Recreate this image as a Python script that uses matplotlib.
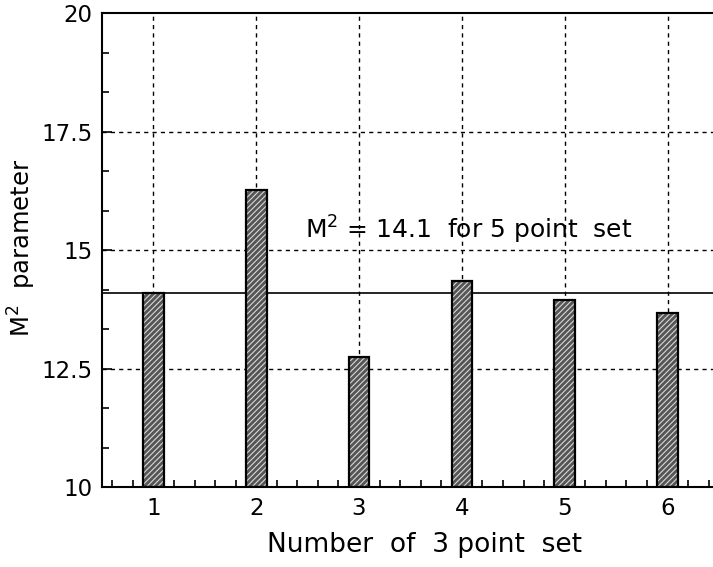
import matplotlib.pyplot as plt
from matplotlib.ticker import MultipleLocator

sets = [1, 2, 3, 4, 5, 6]
m2 = [14.1, 16.27, 12.74, 14.35, 13.95, 13.67]
m2_five = 14.1
yticks = [10, 12.5, 15, 17.5, 20]
ylabels = ['10', '12.5', '15', '17.5', '20']

plt.rcParams['font.family'] = 'DejaVu Sans'
plt.rcParams['hatch.linewidth'] = 0.8

fig = plt.figure(figsize=(7.13, 5.67), dpi=100)
ax = fig.add_axes([0.143, 0.141, 0.8654, 0.836])

# grid first, bars drawn on top
for x in sets:
    ax.axvline(x, color='black', lw=1, ls=(0, (3, 3)), zorder=1)
for y in yticks[1:-1]:
    ax.axhline(y, color='black', lw=1, ls=(0, (3, 3)), zorder=1)
ax.axhline(m2_five, color='black', lw=1.2, zorder=1)

ax.bar(sets, [v - 10 for v in m2], bottom=10, width=0.2, color='#555555',
       edgecolor='#d8d8d8', hatch='//////', lw=0, zorder=2)
ax.bar(sets, [v - 10 for v in m2], bottom=10, width=0.2, fill=False,
       edgecolor='black', lw=1.6, zorder=3)

ax.text(2.47, 15.42, r'M$^2$ = 14.1  for 5 point  set', fontsize=18,
        va='center', ha='left', zorder=4)

ax.set_xlim(0.5, 6.5)
ax.set_ylim(10, 20)
ax.set_xticks(sets)
ax.set_yticks(yticks)
ax.set_yticklabels(ylabels)
ax.xaxis.set_minor_locator(MultipleLocator(0.2))
ax.yaxis.set_minor_locator(MultipleLocator(2.5 / 3))
ax.tick_params(which='both', direction='in', labelsize=16.5, width=1.2)
ax.tick_params(which='major', length=7, pad=7)
ax.tick_params(which='minor', length=5)
for s in ax.spines.values():
    s.set_linewidth(1.5)

ax.set_xlabel('Number  of  3 point  set', fontsize=19)
ax.xaxis.set_label_coords(0.523, -0.095)
ax.set_ylabel(r'M$^2$  parameter', fontsize=17.5)
ax.yaxis.set_label_coords(-0.103, 0.505)

fig.savefig('out.png', dpi=100)
